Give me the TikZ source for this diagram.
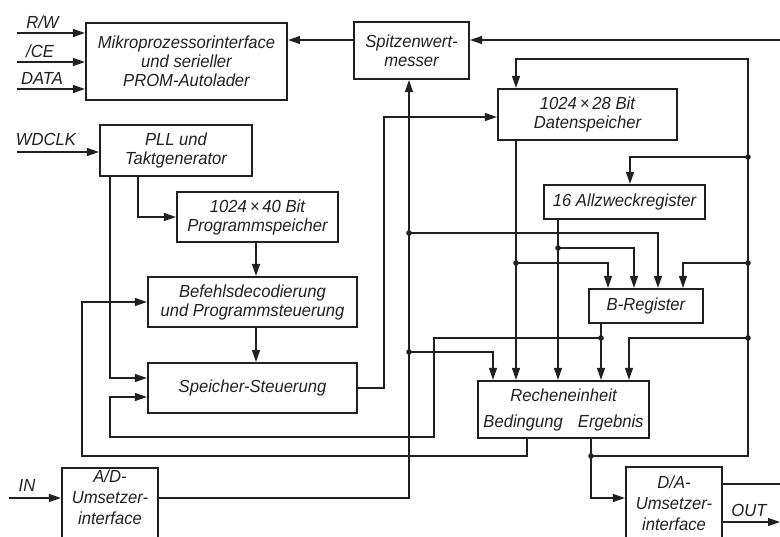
\documentclass[tikz,border=0pt]{standalone}
\usepackage{fontspec}
\setmainfont{Liberation Sans}[FakeStretch=0.95]
\usetikzlibrary{arrows.meta}
\definecolor{ink}{RGB}{35,31,32}
\begin{document}
\begin{tikzpicture}[x=1pt,y=-1pt,
  every node/.style={font=\itshape\fontsize{17.5}{19}\selectfont, text=ink},
  box/.style={draw=ink, line width=2.2pt, inner sep=0pt, align=center},
  wire/.style={draw=ink, line width=1.3pt},
  arr/.style={wire, -{Triangle[length=12pt,width=8pt]}},
  lbl/.style={anchor=base, inner sep=0pt},
  boxtext/.style={anchor=north, inner sep=0pt, align=center, font=\itshape\fontsize{17.5}{21}\selectfont}]
\useasboundingbox (0,0) rectangle (780,537);
\clip (0,0) rectangle (780,537);

% boxes
\node[box, minimum width=201pt, minimum height=77pt] (mpi) at (186.5,61.5) {Mikroprozessorinterface\\und serieller\\PROM-Autolader};
\node[box, minimum width=115pt, minimum height=57pt] (spw) at (411.5,50.5) {Spitzenwert-\\messer};
\node[box, minimum width=179pt, minimum height=51pt] (dsp) at (587.5,114.5) {1024\,×\,28 Bit\\Datenspeicher};
\node[box, minimum width=152pt, minimum height=51pt] (pll) at (176,150.5) {PLL und\\Taktgenerator};
\node[box, minimum width=161pt, minimum height=50pt] (psp) at (257.5,217) {1024\,×\,40 Bit\\Programmspeicher};
\node[box, minimum width=209pt, minimum height=50pt] (bef) at (252.5,302) {Befehlsdecodierung\\und Programmsteuerung};
\node[box, minimum width=209pt, minimum height=50pt] (sst) at (252.5,388) {Speicher-Steuerung};
\node[box, minimum width=161pt, minimum height=34pt] (azr) at (624.5,202) {16 Allzweckregister};
\node[box, minimum width=114pt, minimum height=34pt] (breg) at (646,306) {B-Register};
\node[box, minimum width=171pt, minimum height=57pt] (rech) at (563.5,409.5) {Recheneinheit\\[7pt]Bedingung\hspace{15pt}Ergebnis};
\node[box, minimum width=96pt, minimum height=90pt] (ad) at (110,513) {};
\node[boxtext] (adt) at (110,470) {A/D-\\Umsetzer-\\interface};
\node[box, minimum width=96pt, minimum height=90pt] (da) at (674,512) {};
\node[boxtext] (dat) at (674,476) {D/A-\\Umsetzer-\\interface};

% external inputs / outputs
\coordinate (rw) at (17,33);
\coordinate (ce) at (17,62);
\coordinate (data) at (17,89);
\coordinate (wd) at (17,152);
\coordinate (in) at (9,498);
\coordinate (out) at (780,522);
\coordinate (daout) at (780,484);
\coordinate (pin) at (780,40);
\draw[arr] (rw) -- (rw -| mpi.west);
\draw[arr] (ce) -- (ce -| mpi.west);
\draw[arr] (data) -- (data -| mpi.west);
\draw[arr] (wd) -- (wd -| pll.west);
\draw[arr] (in) -- (in -| ad.west);
\draw[arr] (out -| da.east) -- (out);
\draw[wire] (daout -| da.east) -- (daout);
\draw[arr] (pin) -- (pin -| spw.east);
\draw[arr] (spw.west |- pin) -- (pin -| mpi.east);
\node[lbl] (lrw) at (42.5,29) {R/W};
\node[lbl] (lce) at (40,58) {/CE};
\node[lbl] (ldata) at (42,85) {DATA};
\node[lbl] (lwd) at (46,146) {WDCLK};
\node[lbl] (lin) at (27,492) {IN};
\node[lbl] (lout) at (749,517) {OUT};

% PLL
\coordinate (p1) at (110,378);
\draw[arr] (p1 |- pll.south) -- (p1) -- (p1 -| sst.west);
\coordinate (p2) at (138,217);
\draw[arr] (p2 |- pll.south) -- (p2) -- (p2 -| psp.west);
\coordinate (v1) at (256,0);
\draw[arr] (v1 |- psp.south) -- (v1 |- bef.north);
\draw[arr] (v1 |- bef.south) -- (v1 |- sst.north);

% Speicher-Steuerung -> Datenspeicher
\coordinate (s1) at (384,117);
\draw[arr] (sst.east) -- (sst.east -| s1) -- (s1) -- (s1 -| dsp.west);

% A/D
\coordinate (a1) at (409,498);
\draw[arr] (a1 -| ad.east) -- (a1) -- (a1 |- spw.south);
\coordinate (j1) at (409,233); \coordinate (k1) at (658,233);
\draw[arr] (j1) -- (k1) -- (k1 |- breg.north);
\coordinate (j2) at (409,352); \coordinate (k2) at (493,352);
\draw[arr] (j2) -- (k2) -- (k2 |- rech.north);

% Datenspeicher
\coordinate (d1) at (516,263); \coordinate (k3) at (608,263);
\draw[arr] (d1 |- dsp.south) -- (d1 |- rech.north);
\draw[arr] (d1) -- (k3) -- (k3 |- breg.north);

% Allzweckregister
\coordinate (r1) at (558,248); \coordinate (k4) at (634,248);
\draw[arr] (r1 |- azr.south) -- (r1 |- rech.north);
\draw[arr] (r1) -- (k4) -- (k4 |- breg.north);

% B-Register
\coordinate (b1) at (601,338);
\coordinate (b2) at (434,338); \coordinate (b3) at (434,437);
\coordinate (b4) at (110,437); \coordinate (b5) at (110,397);
\draw[arr] (b1 |- breg.south) -- (b1 |- rech.north);
\draw[arr] (b1) -- (b2) -- (b3) -- (b4) -- (b5) -- (b5 -| sst.west);

% Bedingung
\coordinate (c1) at (527,456); \coordinate (c2) at (82,456); \coordinate (c3) at (82,302);
\draw[arr] (c1 |- rech.south) -- (c1) -- (c2) -- (c3) -- (c3 -| bef.west);

% Ergebnis
\coordinate (e1) at (591,456); \coordinate (e2) at (591,498);
\draw[arr] (e1 |- rech.south) -- (e2) -- (e2 -| da.west);
\coordinate (f1) at (748,456); \coordinate (f2) at (748,59); \coordinate (f3) at (516,59);
\draw[arr] (e1) -- (f1) -- (f2) -- (f3) -- (f3 |- dsp.north);
\coordinate (g1) at (748,157); \coordinate (h1) at (630,157);
\draw[arr] (g1) -- (h1) -- (h1 |- azr.north);
\coordinate (g2) at (748,263); \coordinate (h2) at (683,263);
\draw[arr] (g2) -- (h2) -- (h2 |- breg.north);
\coordinate (g3) at (748,338); \coordinate (h3) at (629,338);
\draw[arr] (g3) -- (h3) -- (h3 |- rech.north);

% junction dots
\foreach \p in {j1,j2,d1,r1,b1,e1,g1,g2,g3}
  \fill[ink] (\p) circle (2.8pt);
\end{tikzpicture}
\end{document}
